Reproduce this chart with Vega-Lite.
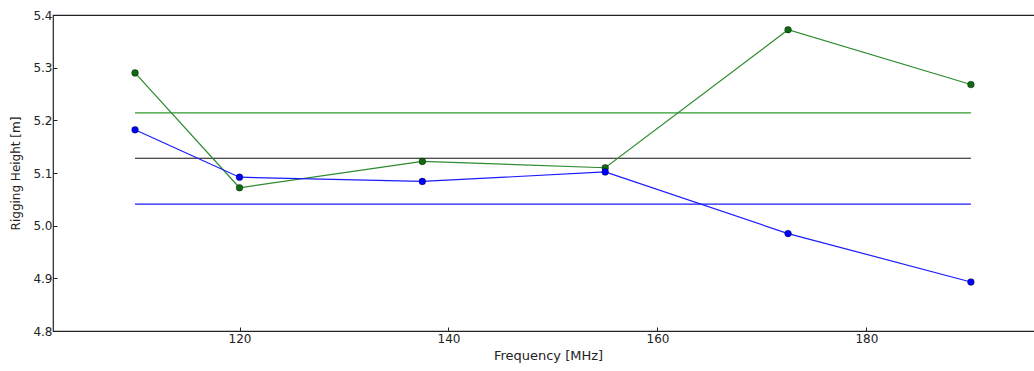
{
  "$schema": "https://vega.github.io/schema/vega-lite/v6.json",
  "autosize": {"type": "none"},
  "padding": {"left": 53, "top": 15, "right": 0, "bottom": 40},
  "width": 990,
  "height": 316,
  "background": "white",
  "config": {
    "view": {"stroke": "#222222", "strokeWidth": 1.2},
    "font": "DejaVu Sans",
    "axis": {
      "labelFont": "DejaVu Sans",
      "titleFont": "DejaVu Sans",
      "labelFontSize": 12,
      "titleFontSize": 12,
      "titleFontWeight": "normal",
      "labelColor": "#222222",
      "titleColor": "#222222",
      "grid": false,
      "domain": false,
      "tickColor": "#222222",
      "tickSize": -4
    }
  },
  "datasets": {
    "series": [
      {"series": "green", "freq": 110, "height": 5.290},
      {"series": "green", "freq": 120, "height": 5.072},
      {"series": "green", "freq": 137.5, "height": 5.122},
      {"series": "green", "freq": 155, "height": 5.110},
      {"series": "green", "freq": 172.5, "height": 5.372},
      {"series": "green", "freq": 190, "height": 5.268},
      {"series": "blue", "freq": 110, "height": 5.182},
      {"series": "blue", "freq": 120, "height": 5.092},
      {"series": "blue", "freq": 137.5, "height": 5.084},
      {"series": "blue", "freq": 155, "height": 5.102},
      {"series": "blue", "freq": 172.5, "height": 4.985},
      {"series": "blue", "freq": 190, "height": 4.893}
    ],
    "means": [
      {"series": "green_mean", "freq": 110, "height": 5.214},
      {"series": "green_mean", "freq": 190, "height": 5.214},
      {"series": "black_mean", "freq": 110, "height": 5.128},
      {"series": "black_mean", "freq": 190, "height": 5.128},
      {"series": "blue_mean", "freq": 110, "height": 5.041},
      {"series": "blue_mean", "freq": 190, "height": 5.041}
    ]
  },
  "encoding": {
    "x": {
      "field": "freq",
      "type": "quantitative",
      "scale": {"domain": [102.15, 196.9], "nice": false, "zero": false},
      "axis": {"values": [120, 140, 160, 180], "title": "Frequency [MHz]", "titleFontSize": 13, "labelPadding": 6, "titlePadding": 5}
    },
    "y": {
      "field": "height",
      "type": "quantitative",
      "scale": {"domain": [4.8, 5.4], "nice": false, "zero": false},
      "axis": {"values": [4.8, 4.9, 5.0, 5.1, 5.2, 5.3, 5.4], "format": ".1f", "title": "Rigging Height [m]", "labelPadding": 5, "titlePadding": 10}
    }
  },
  "resolve": {"scale": {"color": "independent", "fill": "independent"}},
  "layer": [
    {
      "data": {"name": "means"},
      "mark": {"type": "line", "strokeWidth": 1.2},
      "encoding": {
        "detail": {"field": "series"},
        "color": {
          "field": "series",
          "type": "nominal",
          "scale": {"domain": ["green_mean", "black_mean", "blue_mean"], "range": ["#2e9a2e", "#111111", "#1a1aff"]},
          "legend": null
        }
      }
    },
    {
      "data": {"name": "series"},
      "mark": {"type": "line", "strokeWidth": 1.2},
      "encoding": {
        "detail": {"field": "series"},
        "color": {
          "field": "series",
          "type": "nominal",
          "scale": {"domain": ["green", "blue"], "range": ["#2e8b2e", "#1a1aff"]},
          "legend": null
        }
      }
    },
    {
      "data": {"name": "series"},
      "mark": {"type": "point", "filled": true, "size": 45, "opacity": 1, "stroke": "#000000", "strokeWidth": 0.4},
      "encoding": {
        "fill": {
          "field": "series",
          "type": "nominal",
          "scale": {"domain": ["green", "blue"], "range": ["#0f6b0f", "#0000ff"]},
          "legend": null
        }
      }
    }
  ]
}
